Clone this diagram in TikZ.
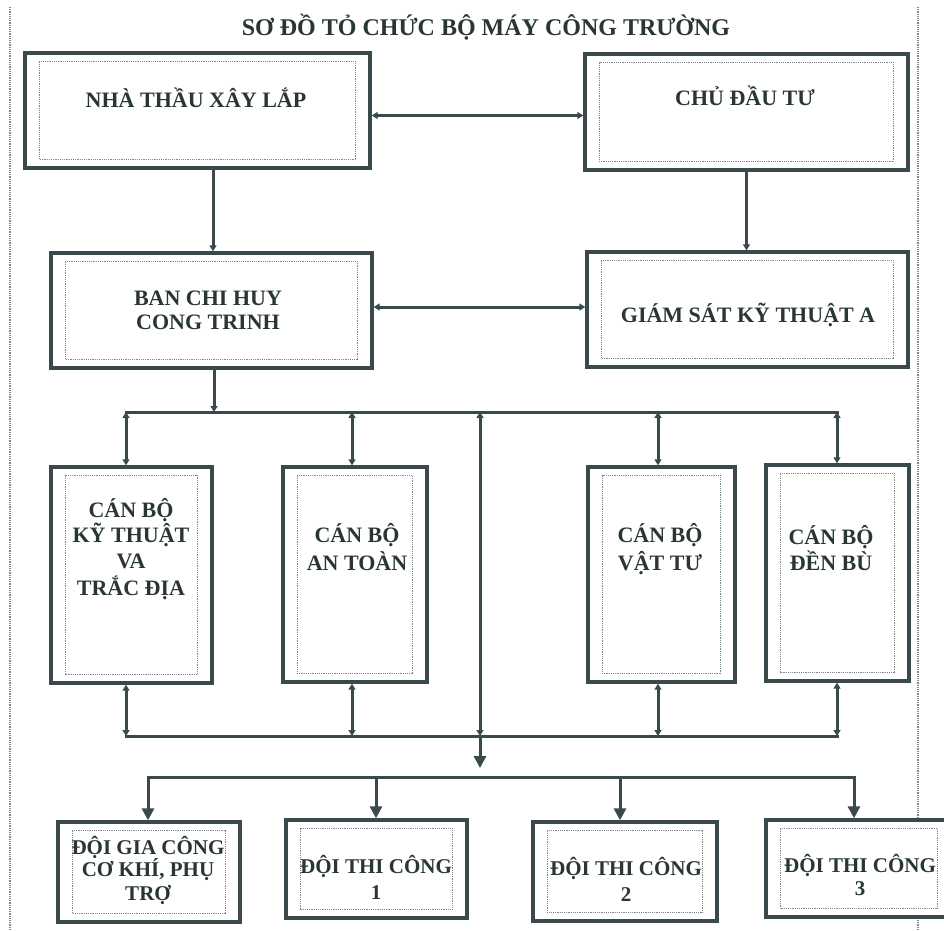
\documentclass[tikz,border=0pt]{standalone}
\usepackage{fontspec}
\setmainfont{Liberation Serif}
\usetikzlibrary{arrows.meta,calc}
\definecolor{lc}{RGB}{58,74,76}
\definecolor{tc}{RGB}{42,54,54}
\definecolor{dc}{RGB}{125,135,135}
\tikzset{
  obox/.style={draw=lc,line width=3.4pt,fill=white,inner sep=0pt},
  ibox/.style={draw=dc,line width=1.4pt,dash pattern=on 1.2pt off 1pt},
  conn/.style={draw=lc,line width=3pt},
  border/.style={draw=dc,line width=1.3pt,dash pattern=on 1.2pt off 1pt},
  txt/.style={text=tc,font=\bfseries\fontsize{22}{26}\selectfont,inner sep=0pt,text height=15pt,text depth=0pt},
  txts/.style={text=tc,font=\bfseries\fontsize{21}{24}\selectfont,inner sep=0pt,text height=14.5pt,text depth=0pt},
  ttl/.style={text=tc,font=\bfseries\fontsize{24}{28}\selectfont,inner sep=0pt,text height=16pt,text depth=0pt},
  sm/.tip={Triangle[length=6pt,width=7pt]},
  bg/.tip={Triangle[length=12pt,width=12pt]}
}
\newcommand{\mkbox}[5]{%
  \node[obox,minimum width=#4pt,minimum height=#5pt] (#1) at (#2,#3) {};
  \draw[ibox] ($(#1.north west)+(16pt,-10pt)$) rectangle ($(#1.south east)+(-16pt,10pt)$);}
\begin{document}
\begin{tikzpicture}[x=1pt,y=-1pt]
\useasboundingbox (0,0) rectangle (944,930);
\clip (0,0) rectangle (944,930);
\fill[white] (0,0) rectangle (944,930);
% page borders
\draw[border] (10,7) -- (10,930);
\draw[border] (918,7) -- (918,930);
% title
\node[ttl] (title) at (486,27) {SƠ ĐỒ TỎ CHỨC BỘ MÁY CÔNG TRƯỜNG};
% boxes
\mkbox{b1}{197.5}{110.5}{345}{115}
\mkbox{b2}{746.5}{112}{323}{116}
\mkbox{b3}{211.5}{310.5}{321}{115}
\mkbox{b4}{747.5}{309.5}{321}{115}
\mkbox{b5}{131.5}{575}{161}{216}
\mkbox{b6}{355}{574.5}{144}{215}
\mkbox{b7}{661.5}{574.5}{147}{215}
\mkbox{b8}{837.5}{573}{143}{216}
\mkbox{b9}{149}{872}{182}{100}
\mkbox{b10}{376.5}{869}{181}{98}
\mkbox{b11}{625}{871.5}{184}{99}
\mkbox{b12}{859}{868.5}{186}{97}
% texts
\node[txt] (t1) at (196,100) {NHÀ THẦU XÂY LẮP};
\node[txt] (t2) at (745,98) {CHỦ ĐẦU TƯ};
\node[txt] (t3a) at (208,298) {BAN CHI HUY};
\node[txt] (t3b) at (208,322) {CONG TRINH};
\node[txt] (t4) at (748,315) {GIÁM SÁT KỸ THUẬT A};
\node[txt] (t5a) at (131,510) {CÁN BỘ};
\node[txt] (t5b) at (131,535) {KỸ THUẬT};
\node[txt] (t5c) at (131,561) {VA};
\node[txt] (t5d) at (131,588) {TRẮC ĐỊA};
\node[txt] (t6a) at (357,535) {CÁN BỘ};
\node[txt] (t6b) at (357,563) {AN TOÀN};
\node[txt] (t7a) at (660,535) {CÁN BỘ};
\node[txt] (t7b) at (660,563) {VẬT TƯ};
\node[txt] (t8a) at (831,537) {CÁN BỘ};
\node[txt] (t8b) at (831,563) {ĐỀN BÙ};
\node[txts] (t9a) at (148,847) {ĐỘI GIA CÔNG};
\node[txts] (t9b) at (148,869) {CƠ KHÍ, PHỤ};
\node[txts] (t9c) at (148,893) {TRỢ};
\node[txts] (t10a) at (376,866) {ĐỘI THI CÔNG};
\node[txts] (t10b) at (376,892) {1};
\node[txts] (t11a) at (626,868) {ĐỘI THI CÔNG};
\node[txts] (t11b) at (626,894) {2};
\node[txts] (t12a) at (860,865) {ĐỘI THI CÔNG};
\node[txts] (t12b) at (860,888) {3};
% junction coordinates
\coordinate (u5) at (126,412);
\coordinate (u6) at (352,412);
\coordinate (um) at (480,412);
\coordinate (u7) at (658,412);
\coordinate (u8) at (837,412);
\coordinate (l5) at (126,736);
\coordinate (l6) at (352,736);
\coordinate (lm) at (480,736);
\coordinate (l7) at (658,736);
\coordinate (l8) at (837,736);
\coordinate (me) at (480,768);
\coordinate (d9) at (148,777);
\coordinate (d10) at (376,777);
\coordinate (d11) at (620,777);
\coordinate (d12) at (854,777);
% top connectors
\draw[conn,{sm}-{sm}] ([yshift=-5pt]b1.east) -- ([yshift=-5pt]b1.east -| b2.west);
\draw[conn,{sm}-{sm}] ([yshift=3.5pt]b3.east) -- ([yshift=3.5pt]b3.east -| b4.west);
\draw[conn,-{sm}] ([xshift=15.5pt]b1.south) -- ([xshift=15.5pt]b1.south |- b3.north);
\draw[conn,-{sm}] (b2.south) -- (b2.south |- b4.north);
\draw[conn,-{sm}] ([xshift=2.5pt]b3.south) -- ([xshift=2.5pt]b3.south |- u5);
% bus 1
\draw[conn,line cap=rect] (u5) -- (u8);
\draw[conn,{sm}-{sm}] (u5) -- (u5 |- b5.north);
\draw[conn,{sm}-{sm}] (u6) -- (u6 |- b6.north);
\draw[conn,{sm}-{sm}] (u7) -- (u7 |- b7.north);
\draw[conn,{sm}-{sm}] (u8) -- (u8 |- b8.north);
% bus 2
\draw[conn,{sm}-{sm}] (u5 |- b5.south) -- (l5);
\draw[conn,{sm}-{sm}] (u6 |- b6.south) -- (l6);
\draw[conn,{sm}-{sm}] (u7 |- b7.south) -- (l7);
\draw[conn,{sm}-{sm}] (u8 |- b8.south) -- (l8);
\draw[conn,line cap=rect] (l5) -- (l8);
% middle spine
\draw[conn,{sm}-{sm}] (um) -- (lm);
\draw[conn,-{bg}] (lm) -- (me);
% bus 3
\draw[conn,line cap=rect] (d9) -- (d12);
\draw[conn,-{bg}] (d9) -- (d9 |- b9.north);
\draw[conn,-{bg}] (d10) -- (d10 |- b10.north);
\draw[conn,-{bg}] (d11) -- (d11 |- b11.north);
\draw[conn,-{bg}] (d12) -- (d12 |- b12.north);
\end{tikzpicture}
\end{document}
